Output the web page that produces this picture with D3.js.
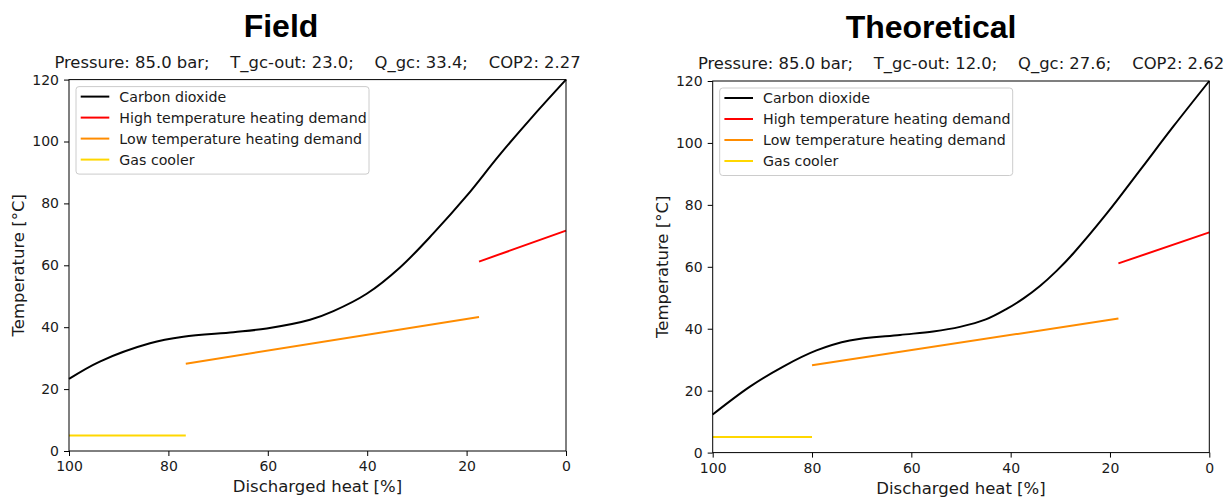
<!DOCTYPE html>
<html>
<head>
<meta charset="utf-8">
<script src="https://cdn.jsdelivr.net/npm/d3@7"></script>
<style>
  html, body { margin: 0; padding: 0; background: #fff; }
  svg { display: block; }
  text { font-family: "DejaVu Sans", sans-serif; fill: #1a1a1a; }
</style>
</head>
<body>
<svg id="chart" width="1232" height="500"></svg>
<script>
// ---- data ----
const panelTitles = ["Field", "Theoretical"];
const subtitles = [
  "Pressure: 85.0 bar;    T_gc-out: 23.0;    Q_gc: 33.4;    COP2: 2.27",
  "Pressure: 85.0 bar;    T_gc-out: 12.0;    Q_gc: 27.6;    COP2: 2.62"
];
const seriesNames = ["Carbon dioxide", "High temperature heating demand", "Low temperature heating demand", "Gas cooler"];
const seriesColors = ["#000000", "#ff0000", "#ff8c00", "#ffd700"];
const xTicks = [100, 80, 60, 40, 20, 0];
const yTicks = [0, 20, 40, 60, 80, 100, 120];
const xLabel = "Discharged heat [%]";
const yLabel = "Temperature [°C]";

// Field panel (x = discharged heat %, y = temperature °C)
const fieldCO2 = [[100,23.3],[93.8,28.9],[83.7,34.8],[77,36.9],[66.9,38.4],[60.2,39.6],[51.5,42.4],[46.8,45.2],[40.1,50.8],[33.4,59.3],[26.7,70.3],[20,82.4],[13.4,95.6],[6.6,108.3],[0,120]];
const fieldHigh = [[17.5,61.2],[0,71.2]];
const fieldLow = [[76.5,28.2],[17.5,43.3]];
const fieldGas = [[100,5],[76.5,5]];

// Theoretical panel
const theoCO2 = [[100,12.3],[92.5,21.3],[85.8,27.8],[79.1,33.0],[72.4,36.2],[62.3,38.0],[55.6,39.1],[50.2,40.6],[45,43.0],[40.8,46.4],[37.4,49.8],[34.1,53.8],[30.8,58.6],[27.4,64.3],[20.6,77.3],[13.9,91.3],[7.2,105.4],[0,120]];
const theoHigh = [[18.3,61.1],[0,71.1]];
const theoLow = [[80,28.2],[18.3,43.3]];
const theoGas = [[100,5],[80,5]];

const panelSeries = [
  [fieldCO2, fieldHigh, fieldLow, fieldGas],
  [theoCO2, theoHigh, theoLow, theoGas]
];

// ---- layout ----
const frames = [
  { left: 69, right: 566, top: 79.6, bottom: 451, titleX: 281, titleY: 37 },
  { left: 712.7, right: 1209.3, top: 81, bottom: 452.6, titleX: 931, titleY: 38 }
];

const svg = d3.select("#chart");

frames.forEach((f, i) => {
  const g = svg.append("g");
  const x = d3.scaleLinear().domain([100, 0]).range([f.left, f.right]);
  const y = d3.scaleLinear().domain([0, 120]).range([f.bottom, f.top]);

  // title
  g.append("text")
    .attr("x", f.titleX).attr("y", f.titleY)
    .attr("text-anchor", "middle")
    .style("font-family", "'Liberation Sans', Arial, sans-serif")
    .style("font-weight", "bold")
    .style("font-size", "32px")
    .style("fill", "#000")
    .text(panelTitles[i]);

  // subtitle
  g.append("text")
    .attr("x", (f.left + f.right) / 2).attr("y", f.top - 12)
    .attr("text-anchor", "middle")
    .attr("xml:space", "preserve")
    .style("white-space", "pre")
    .style("font-size", "16.4px")
    .text(subtitles[i]);

  // lines
  const line = d3.line()
    .x(d => x(d[0])).y(d => y(d[1]))
    .curve(d3.curveCatmullRom.alpha(0.5));
  panelSeries[i].forEach((data, k) => {
    const sorted = data.slice().sort((a, b) => b[0] - a[0]);
    g.append("path")
      .datum(sorted)
      .attr("d", line)
      .attr("fill", "none")
      .attr("stroke", seriesColors[k])
      .attr("stroke-width", 2);
  });

  // axes
  const xAxis = d3.axisBottom(x).tickValues(xTicks).tickSize(5).tickPadding(5).tickFormat(d3.format("d"));
  const yAxis = d3.axisLeft(y).tickValues(yTicks).tickSize(5).tickPadding(5).tickFormat(d3.format("d"));
  const gx = g.append("g").attr("transform", `translate(0,${f.bottom})`).call(xAxis);
  const gy = g.append("g").attr("transform", `translate(${f.left},0)`).call(yAxis);
  [gx, gy].forEach(a => {
    a.selectAll(".domain").remove();
    a.selectAll(".tick line").attr("stroke", "#000").attr("stroke-width", 1);
    a.selectAll(".tick text").style("font-size", "14px").style("font-family", "'DejaVu Sans', sans-serif").attr("fill", "#1a1a1a");
  });

  // frame
  g.append("rect")
    .attr("x", f.left).attr("y", f.top)
    .attr("width", f.right - f.left).attr("height", f.bottom - f.top)
    .attr("fill", "none").attr("stroke", "#000").attr("stroke-width", 1);

  // axis labels
  g.append("text")
    .attr("x", (f.left + f.right) / 2).attr("y", f.bottom + 41)
    .attr("text-anchor", "middle")
    .style("font-size", "16.5px")
    .text(xLabel);
  g.append("text")
    .attr("transform", `translate(${f.left - 45},${(f.top + f.bottom) / 2}) rotate(-90)`)
    .attr("text-anchor", "middle")
    .style("font-size", "16.5px")
    .text(yLabel);

  // legend
  const lx = f.left + 7, ly = f.top + 7;
  const lg = g.append("g").attr("transform", `translate(${lx},${ly})`);
  lg.append("rect")
    .attr("width", 293).attr("height", 87.5)
    .attr("rx", 3).attr("ry", 3)
    .attr("fill", "#fff").attr("fill-opacity", 0.8)
    .attr("stroke", "#cccccc").attr("stroke-width", 1);
  seriesNames.forEach((name, k) => {
    const ry = 10 + k * 21;
    lg.append("line")
      .attr("x1", 4.7).attr("x2", 33.3).attr("y1", ry).attr("y2", ry)
      .attr("stroke", seriesColors[k]).attr("stroke-width", 2);
    lg.append("text")
      .attr("x", 43.3).attr("y", ry + 5)
      .style("font-size", "14.2px")
      .text(name);
  });
});
</script>
</body>
</html>
